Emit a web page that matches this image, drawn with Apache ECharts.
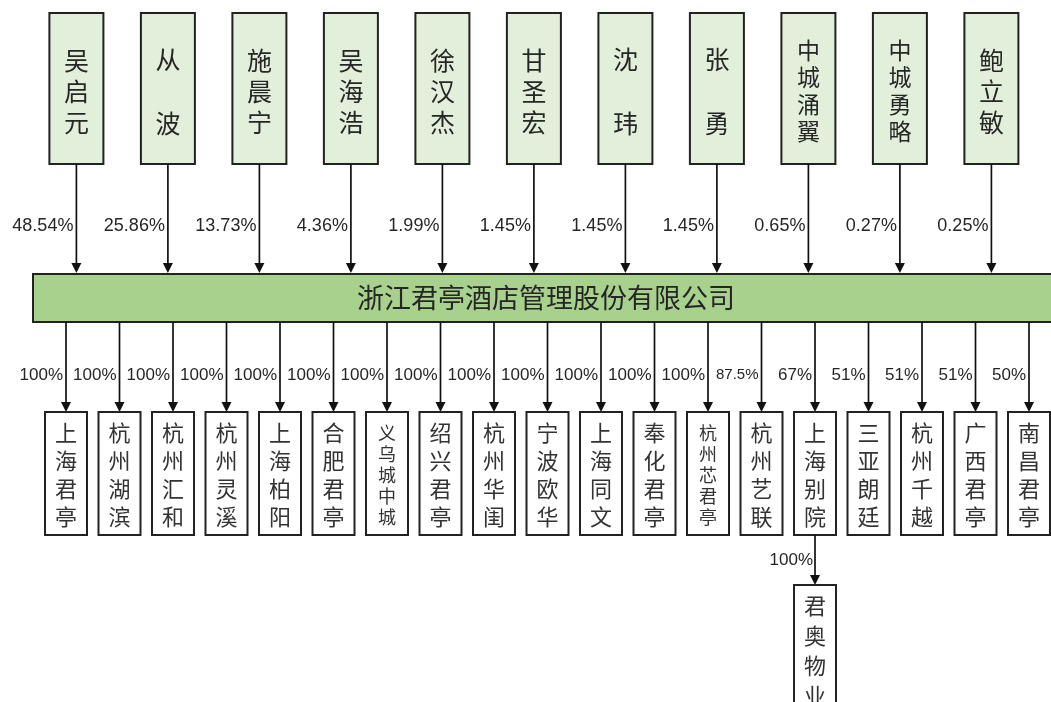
<!DOCTYPE html>
<html>
<head>
<meta charset="utf-8">
<script src="https://cdn.jsdelivr.net/npm/echarts@6/dist/echarts.min.js"></script>
<style>
html,body{margin:0;padding:0;background:#fff;}
#chart{width:1051px;height:702px;}
</style>
</head>
<body>
<div id="chart"></div>
<script>
// ---- data ----
const shareholderNames = ['吴启元','从波','施晨宁','吴海浩','徐汉杰','甘圣宏','沈玮','张勇','中城涌翼','中城勇略','鲍立敏'];
const shareholderStakes = [48.54, 25.86, 13.73, 4.36, 1.99, 1.45, 1.45, 1.45, 0.65, 0.27, 0.25];
const companyName = '浙江君亭酒店管理股份有限公司';
const subsidiaryNames = ['上海君亭','杭州湖滨','杭州汇和','杭州灵溪','上海柏阳','合肥君亭','义乌城中城','绍兴君亭','杭州华闺','宁波欧华','上海同文','奉化君亭','杭州芯君亭','杭州艺联','上海别院','三亚朗廷','杭州千越','广西君亭','南昌君亭'];
const subsidiaryStakes = [100,100,100,100,100,100,100,100,100,100,100,100,100,87.5,67,51,51,51,50];
const secondTierParent = '上海别院';
const secondTierNames = ['君奥物业'];
const secondTierStakes = [100];

// ---- layout (diagram units = pixels of the 1051x702 frame) ----
const L = {
  topStart: 76.4, topStep: 91.5, topW: 54, topY1: 13, topY2: 164, topTextY: 91, topPctY: 226,
  barX1: 33, barX2: 1060, barY1: 274, barY2: 322, barTextX: 546,
  subStart: 66, subStep: 53.5, subW: 42, subY1: 412, subY2: 535, subTextY: 475, subPctY: 375,
  sub2Y1: 585, sub2Y2: 735, sub2TextY: 651, sub2PctY: 560
};
const pct = v => String(v) + '%';
const CJK = '"Noto Sans CJK SC", "Microsoft YaHei", sans-serif';
const LAT = '"Liberation Sans", Arial, sans-serif';

function arrowEls(api, x, y1, y2) {
  const a = api.coord([x, y1]), b = api.coord([x, y2]);
  return [
    {type:'line', shape:{x1:a[0], y1:a[1], x2:b[0], y2:b[1]-8}, style:{stroke:'#111', lineWidth:1.7}},
    {type:'polygon', shape:{points:[[b[0]-5, b[1]-10],[b[0]+5, b[1]-10],[b[0], b[1]]]}, style:{fill:'#111'}}
  ];
}
function boxEl(api, cx, w, y1, y2, fill, lw) {
  const p1 = api.coord([cx - w/2, y1]), p2 = api.coord([cx + w/2, y2]);
  return {type:'rect', shape:{x:p1[0], y:p1[1], width:p2[0]-p1[0], height:p2[1]-p1[1]},
          style:{fill:fill, stroke:'#222', lineWidth:lw}};
}
function vText(name) {
  const chars = Array.from(name);
  if (chars.length === 2) return {text: chars[0] + '\n\n' + chars[1], size: 25, lh: 32};
  if (chars.length === 3) return {text: chars.join('\n'), size: 25, lh: 31};
  if (chars.length === 4) return {text: chars.join('\n'), size: 23, lh: 27};
  return {text: chars.join('\n'), size: 18, lh: 21};
}
function vTextSub(name) {
  const chars = Array.from(name);
  if (chars.length >= 5) return {text: chars.join('\n'), size: 18, lh: 21};
  return {text: chars.join('\n'), size: 22, lh: 28};
}
function textEl(api, x, y, t, size, lh, align, fontFam, fill) {
  const p = api.coord([x, y]);
  return {type:'text', style:{text:t, x:p[0], y:p[1], align:align, verticalAlign:'middle',
          font: size + 'px ' + fontFam, lineHeight: lh, fill: fill || '#222'}};
}

const topX = i => L.topStart + i * L.topStep;
const subX = i => L.subStart + i * L.subStep;
const parentIdx = subsidiaryNames.indexOf(secondTierParent);

const shareholderData = shareholderNames.map((n, i) => [topX(i), i]);
const subsidiaryData = subsidiaryNames.map((n, i) => [subX(i), i]);
const secondData = secondTierNames.map((n, i) => [subX(parentIdx), i]);

const option = {
  animation: false,
  grid: {left:0, right:0, top:0, bottom:0},
  xAxis: {type:'value', min:0, max:1051, show:false},
  yAxis: {type:'value', min:0, max:702, inverse:true, show:false},
  series: [
    {
      type:'custom', coordinateSystem:'cartesian2d', data:[[0,0]], clip:false,
      renderItem: function(params, api) {
        return {type:'group', children:[
          boxEl(api, (L.barX1 + L.barX2)/2, L.barX2 - L.barX1, L.barY1, L.barY2, '#a9d18e', 2),
          textEl(api, L.barTextX, (L.barY1 + L.barY2)/2, companyName, 27, 30, 'center', CJK, '#262626')
        ]};
      }
    },
    {
      type:'custom', coordinateSystem:'cartesian2d', data: shareholderData, clip:false,
      renderItem: function(params, api) {
        const x = api.value(0), i = api.value(1);
        const vt = vText(shareholderNames[i]);
        return {type:'group', children:[
          boxEl(api, x, L.topW, L.topY1, L.topY2, '#e2efda', 2),
          textEl(api, x, L.topTextY, vt.text, vt.size, vt.lh, 'center', CJK, '#262626'),
          ...arrowEls(api, x, L.topY2, L.barY1 - 1),
          textEl(api, x - 3, L.topPctY, pct(shareholderStakes[i]), 18, 20, 'right', LAT, '#262626')
        ]};
      }
    },
    {
      type:'custom', coordinateSystem:'cartesian2d', data: subsidiaryData, clip:false,
      renderItem: function(params, api) {
        const x = api.value(0), i = api.value(1);
        const vt = vTextSub(subsidiaryNames[i]);
        const v = subsidiaryStakes[i];
        const small = String(v).indexOf('.') >= 0;
        return {type:'group', children:[
          ...arrowEls(api, x, L.barY2, L.subY1),
          boxEl(api, x, L.subW, L.subY1, L.subY2, '#ffffff', 2),
          textEl(api, x, L.subTextY, vt.text, vt.size, vt.lh, 'center', CJK, '#333'),
          textEl(api, x - 3, L.subPctY, pct(v), small ? 15 : 17, 20, 'right', LAT, '#262626')
        ]};
      }
    },
    {
      type:'custom', coordinateSystem:'cartesian2d', data: secondData, clip:false,
      renderItem: function(params, api) {
        const x = api.value(0), i = api.value(1);
        const vt = vTextSub(secondTierNames[i]);
        return {type:'group', children:[
          ...arrowEls(api, x, L.subY2, L.sub2Y1),
          boxEl(api, x, L.subW, L.sub2Y1, L.sub2Y2, '#ffffff', 2),
          textEl(api, x, L.sub2TextY, vt.text, 22, 30, 'center', CJK, '#333'),
          textEl(api, x - 2, L.sub2PctY, pct(secondTierStakes[i]), 17, 20, 'right', LAT, '#262626')
        ]};
      }
    }
  ]
};
const chart = echarts.init(document.getElementById('chart'), null, {renderer:'canvas'});
chart.setOption(option);
</script>
</body>
</html>
